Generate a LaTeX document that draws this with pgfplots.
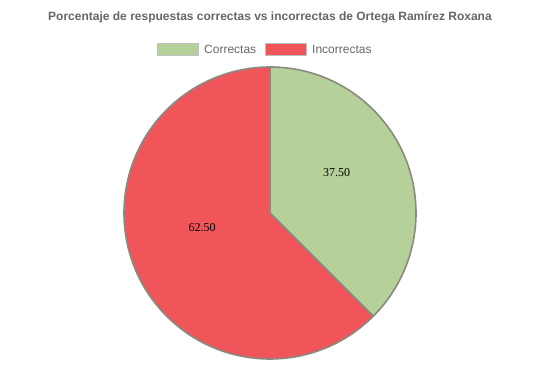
\documentclass[border=0pt]{standalone}
\usepackage{pgfplots}
\pgfplotsset{compat=1.18}
\usepackage{fontspec}
\setmainfont{Liberation Sans}
\newfontfamily\serifnum{Liberation Serif}
\definecolor{cgreen}{HTML}{B6D09A}
\definecolor{cred}{HTML}{F05659}
\definecolor{cborder}{HTML}{8A8A80}
\definecolor{ctext}{HTML}{666666}
% data: percentages
\def\vCorrectas{37.5}
\def\vIncorrectas{62.5}
\begin{document}
\begin{tikzpicture}
\begin{axis}[
  x=1pt, y=1pt, scale only axis,
  xmin=0, xmax=539, ymin=0, ymax=362,
  hide axis, clip=false,
]
\pgfmathsetmacro{\aA}{90}
\pgfmathsetmacro{\aB}{90-3.6*\vCorrectas}
\pgfmathsetmacro{\aC}{\aB-3.6*\vIncorrectas}
\pgfmathsetmacro{\r}{146}
\fill[cgreen] (axis cs:270,149) -- ++(\aA:\r pt) arc[start angle=\aA, end angle=\aB, radius=\r pt] -- cycle;
\fill[cred] (axis cs:270,149) -- ++(\aB:\r pt) arc[start angle=\aB, end angle=\aC, radius=\r pt] -- cycle;
\draw[cborder, line width=1.6pt, line join=round] (axis cs:270,149) -- ++(\aA:\r pt) arc[start angle=\aA, end angle=\aB, radius=\r pt] -- cycle;
\draw[cborder, line width=1.6pt, line join=round] (axis cs:270,149) -- ++(\aB:\r pt) arc[start angle=\aB, end angle=\aC, radius=\r pt] -- cycle;
\node[font=\serifnum\fontsize{12}{14}\selectfont] at (axis cs:336.5,189) {37.50};
\node[font=\serifnum\fontsize{12}{14}\selectfont] at (axis cs:202,134) {62.50};
% title
\node[font=\bfseries\fontsize{12}{14}\selectfont, text=ctext] at (axis cs:270,345) {Porcentaje de respuestas correctas vs incorrectas de Ortega Ramírez Roxana};
% legend
\filldraw[fill=cgreen, draw=black!25, line width=1pt] (axis cs:157.5,306.5) rectangle (axis cs:198.5,318);
\node[font=\fontsize{12}{14}\selectfont, text=ctext, anchor=west, inner sep=0pt] at (axis cs:204,312.5) {Correctas};
\filldraw[fill=cred, draw=black!25, line width=1pt] (axis cs:265.5,306.5) rectangle (axis cs:306.5,318);
\node[font=\fontsize{12}{14}\selectfont, text=ctext, anchor=west, inner sep=0pt] at (axis cs:312,312.5) {Incorrectas};
\end{axis}
\useasboundingbox (0,0) rectangle (539pt,362pt);
\end{tikzpicture}
\end{document}
